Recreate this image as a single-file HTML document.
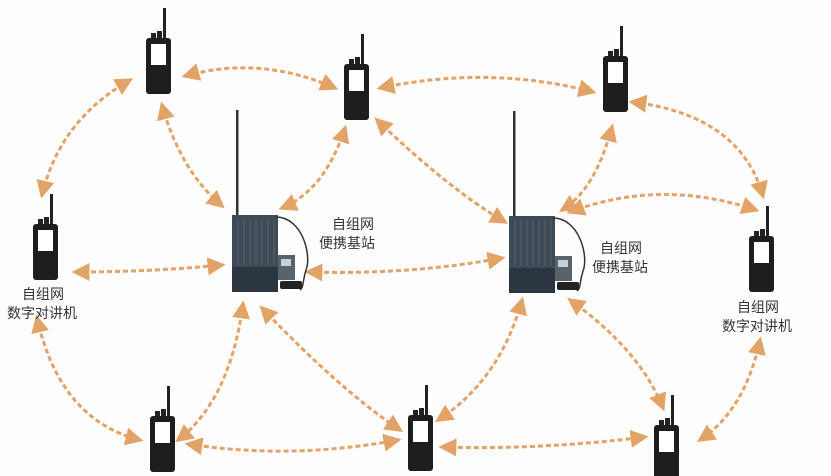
<!DOCTYPE html>
<html><head><meta charset="utf-8"><style>
html,body{margin:0;padding:0;background:#fefefe;}
svg{display:block}
text{font-family:"Liberation Sans","Noto Sans CJK SC",sans-serif;fill:#333;font-size:14px}
</style></head><body>
<svg width="831" height="476" viewBox="0 0 831 476" xmlns="http://www.w3.org/2000/svg">
<defs>
<marker id="a" viewBox="0 0 10 10" refX="8" refY="5" markerWidth="6" markerHeight="6" orient="auto-start-reverse">
<path d="M0,0 L10,5 L0,10 z" fill="#e3a266"/></marker>
<g id="r">
<rect x="17" y="-28" width="3" height="32" fill="#222"/>
<rect x="5" y="-3" width="5" height="6" fill="#222"/>
<rect x="11" y="-5" width="5" height="8" fill="#222"/>
<rect x="0" y="2" width="25" height="56" rx="3" fill="#1e1e1e"/>
<rect x="5" y="8" width="15" height="21" fill="#fff"/>
</g>
<g id="b">
<rect x="4" y="-105" width="2.5" height="108" fill="#333"/>
<rect x="0" y="0" width="46" height="77" fill="#3e4a55"/>
<rect x="0" y="52" width="46" height="25" fill="#2c3640"/>
<g stroke="#56626e" stroke-width="1">
<line x1="6" y1="4" x2="6" y2="50"/><line x1="12" y1="4" x2="12" y2="50"/><line x1="18" y1="4" x2="18" y2="50"/><line x1="24" y1="4" x2="24" y2="50"/><line x1="30" y1="4" x2="30" y2="50"/><line x1="36" y1="4" x2="36" y2="50"/><line x1="42" y1="4" x2="42" y2="50"/></g>
<path d="M44,2 C70,2 80,40 74,55 C70,68 72,72 68,75" fill="none" stroke="#333" stroke-width="1.5"/>
<rect x="46" y="40" width="17" height="25" fill="#59636c"/>
<rect x="49" y="44" width="10" height="7" fill="#c8d0d6"/>
<rect x="48" y="66" width="22" height="8" rx="2" fill="#222"/>
</g>
</defs>
<g fill="none" stroke="#e3a266" stroke-width="3" stroke-dasharray="5,3" marker-start="url(#a)" marker-end="url(#a)">
<path d="M130,80 Q60,120 42,195"/>
<path d="M185,76 Q260,55 335,88"/>
<path d="M162,105 Q180,170 222,206"/>
<path d="M345,128 Q325,190 282,208"/>
<path d="M380,88 Q490,65 593,92"/>
<path d="M377,120 Q450,190 505,222"/>
<path d="M612,127 Q595,190 562,210"/>
<path d="M632,102 Q740,115 763,196"/>
<path d="M570,212 Q660,178 756,210"/>
<path d="M75,272 Q150,272 222,265"/>
<path d="M308,272 Q410,275 502,258"/>
<path d="M37,318 Q60,420 140,440"/>
<path d="M243,304 Q230,400 178,440"/>
<path d="M262,308 Q340,390 400,430"/>
<path d="M188,444 Q290,460 398,440"/>
<path d="M438,420 Q500,380 522,300"/>
<path d="M442,447 Q540,450 645,437"/>
<path d="M570,300 Q640,350 663,408"/>
<path d="M760,340 Q745,410 700,440"/>
</g>
<use href="#r" x="146" y="36"/>
<use href="#r" x="344" y="62"/>
<use href="#r" x="603" y="54"/>
<use href="#r" x="33" y="222"/>
<use href="#r" x="749" y="234"/>
<use href="#r" x="150" y="414"/>
<use href="#r" x="408" y="413"/>
<use href="#r" x="654" y="423"/>
<use href="#b" x="232" y="215"/>
<use href="#b" x="509" y="216"/>
<text x="332" y="229">自组网</text>
<text x="319" y="248">便携基站</text>
<text x="600" y="253">自组网</text>
<text x="592" y="272">便携基站</text>
<text x="22" y="299">自组网</text>
<text x="7" y="318">数字对讲机</text>
<text x="737" y="312">自组网</text>
<text x="722" y="331">数字对讲机</text>
</svg>
</body></html>
